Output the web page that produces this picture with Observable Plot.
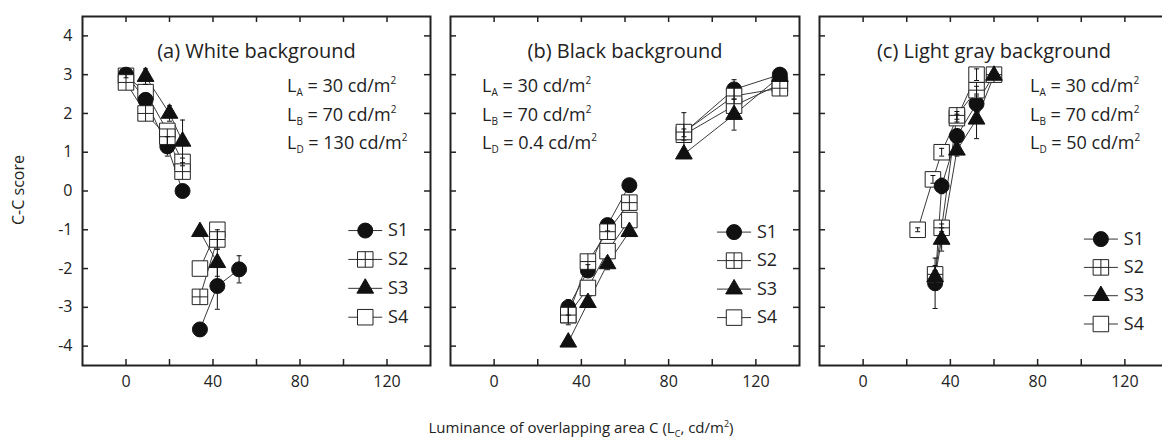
<!DOCTYPE html>
<html><head><meta charset="utf-8">
<script src="https://cdn.jsdelivr.net/npm/d3@7"></script>
<script src="https://cdn.jsdelivr.net/npm/@observablehq/plot@0.6"></script>
<style>
html,body{margin:0;padding:0;background:#fff;overflow:hidden;}
#wrap{position:relative;width:1162px;height:443px;overflow:hidden;font-family:"Open Sans",sans-serif;color:#222;}
.panel{position:absolute;top:0;}
.ann{position:absolute;font-size:18px;line-height:28.5px;white-space:nowrap;color:#222;}
.ann sub{font-size:10px;vertical-align:-4px;line-height:0;}
.ann sup{font-size:10px;vertical-align:8px;line-height:0;}
.xtitle{position:absolute;left:0;width:1162px;text-align:center;top:417px;font-size:15px;}
.xtitle sub{font-size:9px;vertical-align:-4px;line-height:0;}
.xtitle sup{font-size:9px;vertical-align:6px;line-height:0;}
.ytitle{position:absolute;left:18px;top:190px;transform:translate(-50%,-50%) rotate(-90deg);font-size:16px;white-space:nowrap;}
</style></head>
<body><div id="wrap"></div>
<script>
// ---------- data ----------
const seriesNames = ["S1", "S2", "S3", "S4"];
const panelTitles = ["(a) White background", "(b) Black background", "(c) Light gray background"];
const annLabels = ["A", "B", "D"];
const annA = ["30", "70", "130"];
const annB = ["30", "70", "0.4"];
const annC = ["30", "70", "50"];
const xTickLabels = [0, 40, 80, 120];
const xTicks = [0, 20, 40, 60, 80, 100, 120];
const yTicks = [-4, -3, -2, -1, 0, 1, 2, 3, 4];

// Panel (a) white background
const aS1x = [0, 9, 19, 26, null, 34, 42, 52];
const aS1y = [3.0, 2.35, 1.15, 0.0, null, -3.57, -2.45, -2.02];
const aS1e = [0.08, 0.1, 0.25, 0.12, null, 0, 0.6, 0.35];
const aS2x = [0, 9, 19, 26, null, 34, 42];
const aS2y = [2.8, 2.0, 1.4, 0.5, null, -2.73, -1.25];
const aS2e = [0, 0, 0, 0, null, 0, 0.25];
const aS3x = [9, 20, 26, null, 34, 42];
const aS3y = [2.95, 2.0, 1.28, null, -1.05, -1.85];
const aS3e = [0.2, 0.2, 0.55, null, 0, 0.35];
const aS4x = [0, 9, 19, 26, null, 34, 42];
const aS4y = [2.97, 2.55, 1.55, 0.75, null, -2.0, -1.0];
const aS4e = [0, 0, 0, 0.1, null, 0, 0];

// Panel (b) black background
const bS1x = [34, 43, 52, 62, null, 87, 110, 131];
const bS1y = [-3.0, -2.05, -0.88, 0.15, null, 1.5, 2.62, 3.0];
const bS1e = [0.2, 0.15, 0.15, 0.1, null, 0.1, 0.25, 0.1];
const bS2x = [34, 43, 52, 62, null, 87, 110, 131];
const bS2y = [-3.2, -1.82, -1.05, -0.3, null, 1.52, 2.45, 2.65];
const bS2e = [0.25, 0, 0, 0, null, 0.5, 0, 0];
const bS3x = [34, 43, 52, 62, null, 87, 110, 131];
const bS3y = [-3.9, -2.88, -1.88, -1.05, null, 0.95, 1.97, 2.95];
const bS3e = [0, 0, 0.15, 0, null, 0, 0.4, 0];
const bS4x = [34, 43, 52, 62, null, 87, 110, 131];
const bS4y = [-3.2, -2.5, -1.55, -0.75, null, 1.45, 2.2, 2.75];
const bS4e = [0, 0, 0, 0, null, 0, 0, 0];

// Panel (c) light gray background
const cS1x = [33, 36, 43, 52, 60];
const cS1y = [-2.38, 0.13, 1.42, 2.25, 3.0];
const cS1e = [0.65, 0.2, 0.15, 0.2, 0.05];
const cS2x = [33, 36, 43, 52, 60];
const cS2y = [-2.15, -0.95, 1.95, 2.6, 3.0];
const cS2e = [0.1, 0.1, 0.1, 0.1, 0];
const cS3x = [33, 36, 43, 52, 60];
const cS3y = [-2.22, -1.25, 1.05, 1.85, 2.98];
const cS3e = [0.3, 0.3, 0.15, 0.5, 0];
const cS4x = [25, 32, 36, 43, 52];
const cS4y = [-1.0, 0.3, 1.0, 1.88, 3.0];
const cS4e = [0.05, 0.1, 0.1, 0.1, 0.15];

// ---------- rendering ----------
const crossSquare = {
  draw(ctx, size) {
    const w = Math.sqrt(size) / 2;
    ctx.moveTo(-w, -w); ctx.lineTo(w, -w); ctx.lineTo(w, w); ctx.lineTo(-w, w); ctx.closePath();
    ctx.moveTo(-w, 0); ctx.lineTo(w, 0);
    ctx.moveTo(0, -w); ctx.lineTo(0, w);
  }
};
const capSym = { draw(ctx) { ctx.moveTo(-2.5, 0); ctx.lineTo(2.5, 0); } };

const styleOf = {
  S1: {symbol: "circle", r: 7.5, fill: "#111", stroke: "#111"},
  S2: {symbol: crossSquare, r: 8.75, fill: "#fff", stroke: "#222"},
  S3: {symbol: "triangle", r: 6.2, fill: "#111", stroke: "#111"},
  S4: {symbol: "square", r: 8.75, fill: "#fff", stroke: "#222"}
};
const drawOrder = ["S4", "S1", "S2", "S3"];

function rowsOf(name, xs, ys, es) {
  return xs.map((x, i) => ({s: name, x, y: ys[i], e: es[i]}));
}

const FT = 16, FB = 40, H = 405, FH = H - FT - FB;

function makePanel({title, rows, legend, showY, left, width, marginLeft}) {
  const FW = width - marginLeft - 2;
  const pts = rows.filter(d => d.x != null && d.y != null);
  const errs = pts.filter(d => d.e > 0);
  const legendRows = seriesNames.map((s, i) => ({s, y: legend.y0 + i * legend.dy}));
  const marks = [
    Plot.line(rows, {x: "x", y: "y", z: "s", stroke: "#3a3a3a", strokeWidth: 1}),
    Plot.link(legendRows, {x1: () => legend.x - 7.8, x2: () => legend.x + 7.8, y1: "y", y2: "y", stroke: "#333", strokeWidth: 1})
  ];
  for (const s of drawOrder) {
    const st = styleOf[s];
    marks.push(Plot.dot(pts.filter(d => d.s === s), {x: "x", y: "y", symbol: () => st.symbol, r: st.r, fill: st.fill, stroke: st.stroke, strokeWidth: 1}));
    marks.push(Plot.dot(legendRows.filter(d => d.s === s), {x: () => legend.x, y: "y", symbol: () => st.symbol, r: st.r, fill: st.fill, stroke: st.stroke, strokeWidth: 1}));
  }
  marks.push(
    Plot.ruleX(errs, {x: "x", y1: d => d.y - d.e, y2: d => d.y + d.e, stroke: "#111", strokeWidth: 1}),
    Plot.dot(errs, {x: "x", y: d => d.y + d.e, symbol: () => capSym, stroke: "#111", strokeWidth: 1}),
    Plot.dot(errs, {x: "x", y: d => d.y - d.e, symbol: () => capSym, stroke: "#111", strokeWidth: 1}),
    Plot.text(legendRows, {x: () => legend.x + 10.5, y: "y", text: "s", textAnchor: "start", fontSize: 18, fill: "#222"}),
    Plot.text([title], {frameAnchor: "top", dy: 27, fontSize: 20, fill: "#222"}),
    Plot.tickX(xTicks, {x: d => d, insetTop: FH - 6, stroke: "#222", strokeWidth: 1.5}),
    Plot.tickX(xTicks, {x: d => d, insetBottom: FH - 6, stroke: "#222", strokeWidth: 1.5}),
    Plot.tickY(yTicks, {y: d => d, insetRight: FW - 6, stroke: "#222", strokeWidth: 1.5}),
    Plot.tickY(yTicks, {y: d => d, insetLeft: FW - 6, stroke: "#222", strokeWidth: 1.5}),
    Plot.axisX(xTickLabels, {tickSize: 0, tickPadding: 10, fontSize: 16, label: null}),
    Plot.frame({stroke: "#222", strokeWidth: 2})
  );
  if (showY) marks.push(Plot.axisY(yTicks, {tickSize: 0, tickPadding: 10, fontSize: 16, label: null, tickFormat: d => String(d)}));
  const svg = Plot.plot({
    width, height: H,
    marginLeft, marginRight: 2, marginTop: FT, marginBottom: FB,
    x: {domain: [-20, 140], axis: null},
    y: {domain: [-4.5, 4.5], axis: null},
    style: {fontFamily: "'Open Sans', sans-serif", fontSize: "16px", color: "#222", background: "transparent"},
    marks
  });
  svg.classList.add("panel");
  svg.style.left = left + "px";
  return svg;
}

const wrap = document.getElementById("wrap");
const rowsA = [...rowsOf("S1", aS1x, aS1y, aS1e), ...rowsOf("S2", aS2x, aS2y, aS2e), ...rowsOf("S3", aS3x, aS3y, aS3e), ...rowsOf("S4", aS4x, aS4y, aS4e)];
const rowsB = [...rowsOf("S1", bS1x, bS1y, bS1e), ...rowsOf("S2", bS2x, bS2y, bS2e), ...rowsOf("S3", bS3x, bS3y, bS3e), ...rowsOf("S4", bS4x, bS4y, bS4e)];
const rowsC = [...rowsOf("S1", cS1x, cS1y, cS1e), ...rowsOf("S2", cS2x, cS2y, cS2e), ...rowsOf("S3", cS3x, cS3y, cS3e), ...rowsOf("S4", cS4x, cS4y, cS4e)];

wrap.appendChild(makePanel({title: panelTitles[0], rows: rowsA, legend: {x: 110, y0: -1.02, dy: -0.745}, showY: true, left: 0, width: 432, marginLeft: 82}));
wrap.appendChild(makePanel({title: panelTitles[1], rows: rowsB, legend: {x: 110, y0: -1.06, dy: -0.735}, showY: false, left: 440, width: 361, marginLeft: 10}));
wrap.appendChild(makePanel({title: panelTitles[2], rows: rowsC, legend: {x: 109, y0: -1.24, dy: -0.73}, showY: false, left: 809, width: 361, marginLeft: 10}));

function addAnn(vals, left) {
  const d = document.createElement("div");
  d.className = "ann";
  d.style.left = left + "px";
  d.style.top = "71px";
  d.innerHTML = vals.map((v, i) => `L<sub>${annLabels[i]}</sub> = ${v} cd/m<sup>2</sup>`).join("<br>");
  wrap.appendChild(d);
}
addAnn(annA, 287);
addAnn(annB, 482);
addAnn(annC, 1030);

const xt = document.createElement("div");
xt.className = "xtitle";
xt.innerHTML = "Luminance of overlapping area C (L<sub>C</sub>, cd/m<sup>2</sup>)";
wrap.appendChild(xt);
const yt = document.createElement("div");
yt.className = "ytitle";
yt.textContent = "C-C score";
wrap.appendChild(yt);
</script>
</body></html>
